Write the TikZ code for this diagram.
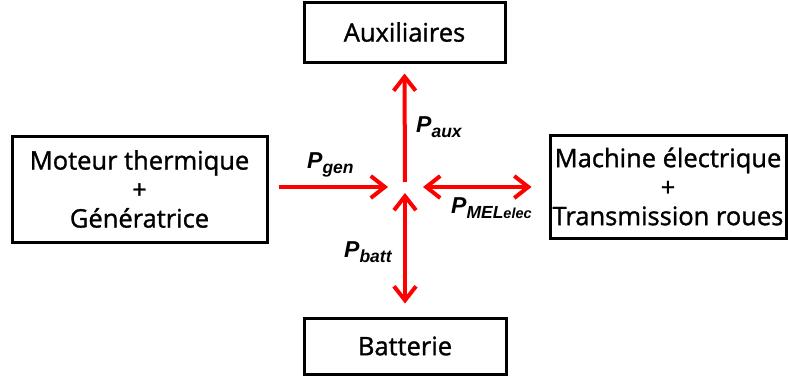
\documentclass[tikz,border=0pt]{standalone}
\usepackage{fontspec}
\setmainfont{Open Sans}[FakeBold=1]
\newfontfamily\boxfont{Open Sans}[FakeBold=1.2]
\newfontfamily\lblfont{Liberation Sans}[BoldItalicFont={Liberation Sans Bold Italic}]
\usetikzlibrary{arrows.meta}
\definecolor{arrred}{RGB}{255,0,0}
\newcommand{\mainlbl}[1]{{\fontsize{23}{23}\selectfont\lblfont\bfseries\itshape #1}}
\newcommand{\sublbl}[1]{\raisebox{-5pt}{\fontsize{17.5}{17.5}\selectfont\lblfont\bfseries\itshape #1}}
\newcommand{\subsublbl}[1]{{\fontsize{14.5}{14.5}\selectfont\lblfont\bfseries\itshape #1}}
\tikzset{
  box/.style={draw=black, line width=3pt, fill=white, align=center, inner sep=0pt,
    font=\boxfont\fontsize{25.5}{29}\selectfont},
  arr/.style={draw=arrred, line width=4pt, -{Straight Barb[length=14pt,width=22pt]}},
  darr/.style={draw=arrred, line width=4pt, {Straight Barb[length=14pt,width=22pt]}-{Straight Barb[length=14pt,width=22pt]}},
  lbl/.style={anchor=base west, inner sep=0pt}
}
\begin{document}
\begin{tikzpicture}[x=1pt,y=-1pt]
\useasboundingbox (0,0) rectangle (788,380);
\node[box, minimum width=201pt, minimum height=60pt] (aux) at (404.5,32) {Auxiliaires};
\node[box, minimum width=202pt, minimum height=56pt] (batt) at (405,346) {Batterie};
\node[box, minimum width=255pt, minimum height=106pt] (gen) at (139.5,189) {Moteur thermique\\+\\Génératrice};
\node[box, minimum width=236pt, minimum height=103pt] (mel) at (668,186.5) {Machine électrique\\+\\Transmission roues};
\coordinate (hub) at (405,187);
\draw[arr, shorten <=10pt, shorten >=17pt] (gen.east |- hub) -- (hub);
\draw[arr, shorten <=5pt, shorten >=10pt] (hub) -- (aux.south);
\draw[darr, shorten <=18pt, shorten >=17pt] (hub) -- (mel.west |- hub);
\draw[darr, shorten <=6pt, shorten >=13pt] (hub) -- (batt.north);
\node[lbl] (laux) at (416,132) {\mainlbl{P}\sublbl{aux}};
\node[lbl] (lgen) at (307,168) {\mainlbl{P}\sublbl{gen}};
\node[lbl] (lmel) at (451,213) {\mainlbl{P}\sublbl{MEL\subsublbl{elec}}};
\node[lbl] (lbatt) at (344,257) {\mainlbl{P}\sublbl{batt}};
\end{tikzpicture}
\end{document}
